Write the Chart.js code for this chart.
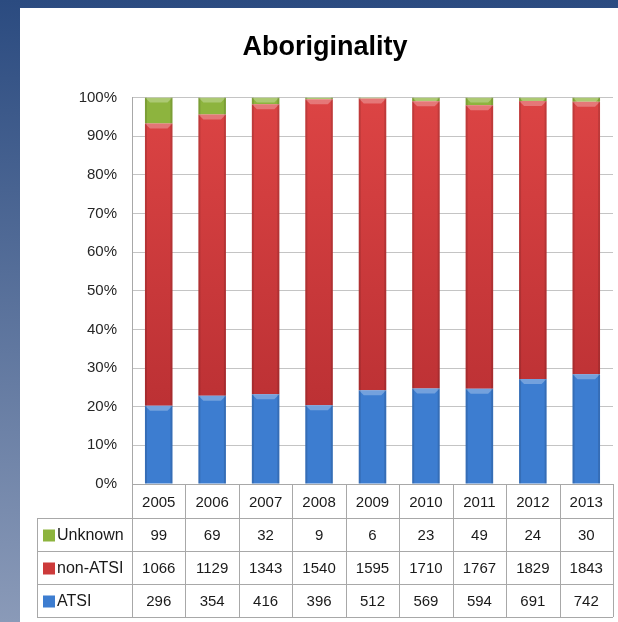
<!DOCTYPE html>
<html>
<head>
<meta charset="utf-8">
<script src="https://cdn.jsdelivr.net/npm/chart.js@4"></script>
<style>
  html, body { margin: 0; padding: 0; }
  body {
    width: 618px; height: 622px; overflow: hidden; position: relative;
    background: linear-gradient(#2b4b80, #8a9ab8);
  }
  #wrap {
    position: absolute; left: 20px; top: 8px;
    width: 598px; height: 614px; background: #fff;
  }
</style>
</head>
<body>
<div id="wrap"><canvas id="chart" width="598" height="614"></canvas></div>
<script>
const years = ['2005', '2006', '2007', '2008', '2009', '2010', '2011', '2012', '2013'];
const unknown = [99, 69, 32, 9, 6, 23, 49, 24, 30];
const nonAtsi = [1066, 1129, 1343, 1540, 1595, 1710, 1767, 1829, 1843];
const atsi = [296, 354, 416, 396, 512, 569, 594, 691, 742];
const percentTicks = [0, 10, 20, 30, 40, 50, 60, 70, 80, 90, 100];

const FONT = "'Liberation Sans', Arial, sans-serif";

// share of each year's total, so the bars stack to 100%
const totals = years.map((y, i) => unknown[i] + nonAtsi[i] + atsi[i]);
const share = arr => arr.map((v, i) => v / totals[i] * 100);

function redFill(context) {
  const area = context.chart.chartArea;
  if (!area) return '#cc3a3a';
  const g = context.chart.ctx.createLinearGradient(0, area.top, 0, area.bottom);
  g.addColorStop(0, '#dc4444');
  g.addColorStop(1, '#b42c30');
  return g;
}

// light bevel on top of each segment and darker side edges, like the excel look
const bevel = {
  id: 'bevel',
  afterDatasetsDraw(chart) {
    const ctx = chart.ctx;
    ctx.save();
    chart.data.datasets.forEach((ds, d) => {
      chart.getDatasetMeta(d).data.forEach(bar => {
        const l = bar.x - bar.width / 2, r = bar.x + bar.width / 2;
        const top = Math.min(bar.y, bar.base), h = Math.abs(bar.base - bar.y);
        if (h < 1) return;
        const bh = Math.min(5, h);
        ctx.fillStyle = 'rgba(255,255,255,0.28)';
        ctx.beginPath();
        ctx.moveTo(l, top);
        ctx.lineTo(r, top);
        ctx.lineTo(r - bh, top + bh);
        ctx.lineTo(l + bh, top + bh);
        ctx.closePath();
        ctx.fill();
        ctx.fillStyle = 'rgba(0,0,0,0.12)';
        ctx.fillRect(l, top, 2, h);
        ctx.fillRect(r - 2, top, 2, h);
      });
    });
    ctx.restore();
  }
};

// the data table under the plot (Unknown / non-ATSI / ATSI rows)
const dataTable = {
  id: 'dataTable',
  afterDraw(chart) {
    const { ctx, chartArea, scales: { x } } = chart;
    const step = x.getPixelForValue(1) - x.getPixelForValue(0);
    const left = 17;
    const right = chartArea.right;
    const headTop = chartArea.bottom;
    const firstRow = headTop + 34;
    const rowH = 33;
    const rows = chart.data.datasets.slice().reverse();
    const bottom = firstRow + rowH * rows.length;

    ctx.save();
    ctx.strokeStyle = '#a8a8a8';
    ctx.lineWidth = 1;
    ctx.beginPath();
    ctx.moveTo(chartArea.left, headTop + 0.5);
    ctx.lineTo(right, headTop + 0.5);
    for (let r = 0; r <= rows.length; r++) {
      const yy = Math.round(firstRow + r * rowH) + 0.5;
      ctx.moveTo(left, yy);
      ctx.lineTo(right, yy);
    }
    ctx.moveTo(left + 0.5, firstRow);
    ctx.lineTo(left + 0.5, bottom);
    for (let i = 0; i <= years.length; i++) {
      const xx = Math.round(x.getPixelForValue(i) - step / 2) + 0.5;
      ctx.moveTo(xx, headTop);
      ctx.lineTo(xx, bottom);
    }
    ctx.stroke();

    ctx.textBaseline = 'middle';
    rows.forEach((ds, r) => {
      const cy = firstRow + r * rowH + rowH / 2 + 1;
      ctx.fillStyle = ds.keyColor;
      ctx.fillRect(23, cy - 6, 12, 12);
      ctx.fillStyle = '#1a1a1a';
      ctx.font = '16px ' + FONT;
      ctx.textAlign = 'left';
      ctx.fillText(ds.label, 37, cy);
      ctx.font = '15px ' + FONT;
      ctx.textAlign = 'center';
      ds.counts.forEach((v, i) => {
        ctx.fillText(String(v), x.getPixelForValue(i), cy);
      });
    });
    ctx.restore();
  }
};

new Chart(document.getElementById('chart'), {
  type: 'bar',
  data: {
    labels: years,
    datasets: [
      { label: 'ATSI', data: share(atsi), counts: atsi, backgroundColor: '#3d7dd0', keyColor: '#3d7dd0' },
      { label: 'non-ATSI', data: share(nonAtsi), counts: nonAtsi, backgroundColor: redFill, keyColor: '#cc3a3a' },
      { label: 'Unknown', data: share(unknown), counts: unknown, backgroundColor: '#8db43e', keyColor: '#8db43e' }
    ]
  },
  options: {
    responsive: false,
    animation: false,
    layout: { padding: { left: 17, right: 5, top: 0, bottom: 0 } },
    datasets: { bar: { categoryPercentage: 1, barPercentage: 0.515 } },
    plugins: {
      legend: { display: false },
      tooltip: { enabled: false },
      title: {
        display: true,
        text: 'Aboriginality',
        color: '#000',
        font: { family: FONT, size: 27, weight: 'bold' },
        padding: { top: 23, bottom: 34 }
      }
    },
    scales: {
      x: {
        stacked: true,
        grid: { display: false, drawTicks: false },
        border: { display: false },
        ticks: { color: '#1a1a1a', font: { family: FONT, size: 15 }, padding: 10 },
        afterFit(scale) { scale.height = 138; }
      },
      y: {
        stacked: true,
        min: 0,
        max: 100,
        afterBuildTicks(scale) { scale.ticks = percentTicks.map(v => ({ value: v })); },
        grid: { color: '#c4c4c4', drawTicks: false },
        border: { color: '#a8a8a8' },
        ticks: {
          color: '#262626',
          font: { family: FONT, size: 15 },
          padding: 15,
          callback: v => v + '%'
        },
        afterFit(scale) { scale.width = 95; }
      }
    }
  },
  plugins: [bevel, dataTable]
});
</script>
</body>
</html>
